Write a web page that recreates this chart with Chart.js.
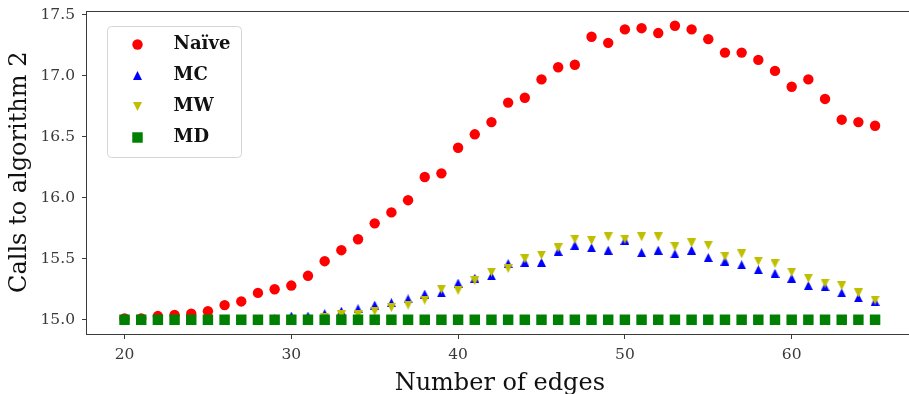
<!DOCTYPE html>
<html>
<head>
<meta charset="utf-8">
<title>Calls to algorithm 2</title>
<script src="https://cdn.jsdelivr.net/npm/chart.js@4.4.1/dist/chart.umd.min.js"></script>
<style>
  html, body { margin: 0; padding: 0; background: #fff; overflow: hidden; }
  /* the plot runs a little past the window: the right spine is cut off like in the original */
  #clip { width: 909px; height: 394px; overflow: hidden; position: relative; }
  #callsChart { display: block; width: 920px; height: 394px; }
</style>
</head>
<body>
<div id="clip"><canvas id="callsChart" width="920" height="394"></canvas></div>
<script>
const edges = [20, 21, 22, 23, 24, 25, 26, 27, 28, 29, 30, 31, 32, 33, 34, 35,
  36, 37, 38, 39, 40, 41, 42, 43, 44, 45, 46, 47, 48, 49, 50, 51, 52, 53, 54,
  55, 56, 57, 58, 59, 60, 61, 62, 63, 64, 65];

const naive = [15.01, 15.01, 15.03, 15.04, 15.05, 15.07, 15.12, 15.15, 15.22,
  15.25, 15.28, 15.36, 15.48, 15.57, 15.66, 15.79, 15.88, 15.98, 16.17, 16.20,
  16.41, 16.52, 16.62, 16.78, 16.82, 16.97, 17.07, 17.09, 17.32, 17.27, 17.38,
  17.39, 17.35, 17.41, 17.38, 17.30, 17.19, 17.19, 17.13, 17.04, 16.91, 16.97,
  16.81, 16.64, 16.62, 16.59];

const mc = [15.0, 15.0, 15.0, 15.0, 15.0, 15.0, 15.0, 15.0, 15.0, 15.01, 15.03,
  15.03, 15.05, 15.07, 15.09, 15.12, 15.14, 15.17, 15.21, 15.22, 15.30, 15.34,
  15.36, 15.46, 15.47, 15.47, 15.56, 15.61, 15.59, 15.57, 15.65, 15.55, 15.57,
  15.54, 15.57, 15.51, 15.48, 15.45, 15.41, 15.38, 15.34, 15.28, 15.27, 15.22,
  15.18, 15.15];

const mw = [15.0, 15.0, 15.0, 15.0, 15.0, 15.0, 15.0, 15.0, 15.0, 15.0, 15.0,
  15.0, 15.02, 15.04, 15.04, 15.07, 15.10, 15.12, 15.16, 15.25, 15.24, 15.32,
  15.39, 15.42, 15.50, 15.53, 15.59, 15.66, 15.65, 15.68, 15.66, 15.68, 15.68,
  15.60, 15.63, 15.61, 15.52, 15.54, 15.48, 15.46, 15.39, 15.34, 15.30, 15.28,
  15.22, 15.16];

const md = [15.0, 15.0, 15.0, 15.0, 15.0, 15.0, 15.0, 15.0, 15.0, 15.0, 15.0,
  15.0, 15.0, 15.0, 15.0, 15.0, 15.0, 15.0, 15.0, 15.0, 15.0, 15.0, 15.0, 15.0,
  15.0, 15.0, 15.0, 15.0, 15.0, 15.0, 15.0, 15.0, 15.0, 15.0, 15.0, 15.0, 15.0,
  15.0, 15.0, 15.0, 15.0, 15.0, 15.0, 15.0, 15.0, 15.0];

const seriesNames = ['Naïve', 'MC', 'MW', 'MD'];
const xTicks = [20, 30, 40, 50, 60];
const yTicks = [15.0, 15.5, 16.0, 16.5, 17.0, 17.5];

const serif = 'DejaVu Serif';
const axisColor = '#3a3a3a';

// matplotlib-like triangles (centred on their bounding box)
function triangleMarker(color, pointingUp) {
  const s = 9;
  const c = document.createElement('canvas');
  c.width = s;
  c.height = s;
  const g = c.getContext('2d');
  g.fillStyle = color;
  g.beginPath();
  if (pointingUp) {
    g.moveTo(s / 2, 0); g.lineTo(s, s); g.lineTo(0, s);
  } else {
    g.moveTo(0, 0); g.lineTo(s, 0); g.lineTo(s / 2, s);
  }
  g.closePath();
  g.fill();
  return c;
}

const toPoints = ys => edges.map((x, i) => ({ x: x, y: ys[i] }));

const markers = [
  { color: '#ff0000', style: 'circle', radius: 5.2 },
  { color: '#0000ff', style: triangleMarker('#0000ff', true), radius: 5 },
  { color: '#bfbf00', style: triangleMarker('#bfbf00', false), radius: 5 },
  { color: '#008000', style: 'rect', radius: 7.4 }
];
const seriesValues = [naive, mc, mw, md];

// spines on all four sides
const framePlugin = {
  id: 'frame',
  afterDraw(chart) {
    const { ctx, chartArea: a } = chart;
    const l = Math.round(a.left) - 0.5, t = Math.round(a.top) + 0.5;
    const r = Math.round(a.right) + 0.5, b = Math.round(a.bottom) + 0.5;
    ctx.save();
    ctx.strokeStyle = axisColor;
    ctx.lineWidth = 1;
    ctx.strokeRect(l, t, r - l, b - t);
    ctx.restore();
  }
};

// boxed legend in the upper-left corner of the plot
const boxLegend = {
  id: 'boxLegend',
  afterDraw(chart) {
    const { ctx, chartArea: a } = chart;
    const left = a.left + 20.5, top = a.top + 16;
    const w = 134, h = 131, rowH = 31;
    ctx.save();
    ctx.beginPath();
    ctx.roundRect(left, top, w, h, 4);
    ctx.fillStyle = 'rgba(255,255,255,0.8)';
    ctx.fill();
    ctx.strokeStyle = '#d5d5d5';
    ctx.lineWidth = 1;
    ctx.stroke();

    ctx.font = 'bold 18px "' + serif + '"';
    ctx.textBaseline = 'middle';
    ctx.textAlign = 'left';
    seriesNames.forEach((name, i) => {
      const m = markers[i];
      const cx = left + 30, cy = top + 18 + i * rowH;
      ctx.fillStyle = m.color;
      if (m.style === 'circle') {
        ctx.beginPath();
        ctx.arc(cx, cy, m.radius, 0, Math.PI * 2);
        ctx.fill();
      } else if (m.style === 'rect') {
        const half = m.radius * Math.SQRT1_2;
        ctx.fillRect(cx - half, cy - half, half * 2, half * 2);
      } else {
        ctx.drawImage(m.style, cx - m.style.width / 2, cy - m.style.height / 2);
      }
      ctx.fillStyle = '#111';
      ctx.fillText(name, left + 66, cy);
    });
    ctx.restore();
  }
};

const ctx = document.getElementById('callsChart').getContext('2d');
new Chart(ctx, {
  type: 'scatter',
  data: {
    datasets: seriesNames.map((name, i) => ({
      label: name,
      data: toPoints(seriesValues[i]),
      pointStyle: markers[i].style,
      pointRadius: markers[i].radius,
      pointHoverRadius: markers[i].radius,
      pointBackgroundColor: markers[i].color,
      pointBorderWidth: 0,
      showLine: false,
      order: 4 - i
    }))
  },
  options: {
    responsive: false,
    animation: false,
    events: [],
    layout: { padding: { top: 10.5, right: 1, bottom: 0, left: 0 } },
    plugins: {
      legend: { display: false },
      tooltip: { enabled: false }
    },
    scales: {
      x: {
        type: 'linear',
        min: 17.75,
        max: 67.25,
        afterFit: s => { s.height = 60; s.paddingLeft = 0; s.paddingRight = 0; },
        afterBuildTicks: s => { s.ticks = xTicks.map(v => ({ value: v })); },
        border: { display: false },
        grid: { drawOnChartArea: false, drawTicks: true, tickLength: 5, tickColor: axisColor },
        ticks: {
          autoSkip: false,
          maxRotation: 0,
          padding: 7,
          color: '#3a3a3a',
          font: { family: serif, size: 15.5 },
          callback: v => String(v)
        },
        title: {
          display: true,
          text: 'Number of edges',
          color: '#111',
          font: { family: serif, size: 24, lineHeight: 0.85 },
          padding: { top: 0, bottom: 0 }
        }
      },
      y: {
        min: 14.883,
        max: 17.535,
        afterFit: s => { s.width = 87; s.paddingTop = 0; s.paddingBottom = 0; },
        afterBuildTicks: s => { s.ticks = yTicks.map(v => ({ value: v })); },
        border: { display: false },
        grid: { drawOnChartArea: false, drawTicks: true, tickLength: 5, tickColor: axisColor },
        ticks: {
          autoSkip: false,
          padding: 7,
          color: '#3a3a3a',
          font: { family: serif, size: 15.5 },
          callback: v => v.toFixed(1)
        },
        title: {
          display: true,
          text: 'Calls to algorithm 2',
          color: '#111',
          font: { family: serif, size: 24, lineHeight: 1 },
          padding: { top: 8, bottom: 0 }
        }
      }
    }
  },
  plugins: [framePlugin, boxLegend]
});
</script>
</body>
</html>
